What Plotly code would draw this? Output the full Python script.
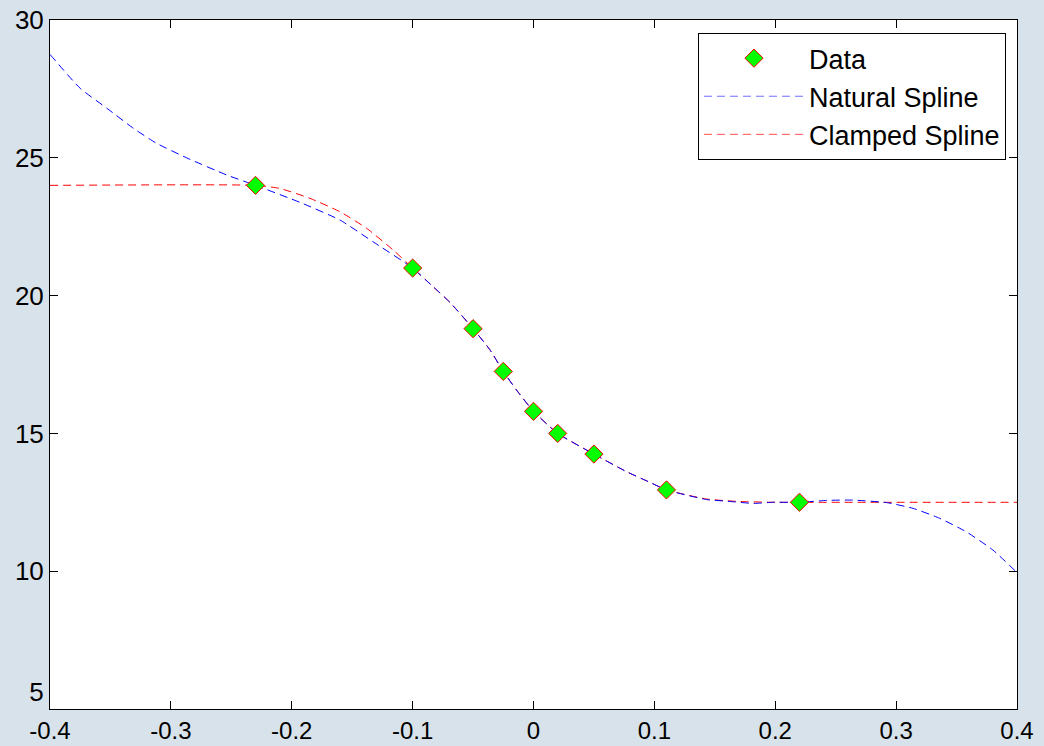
import plotly.graph_objects as go

data_x = [-0.23, -0.1, -0.05, -0.025, 0.0, 0.02, 0.05, 0.11, 0.22]
data_y = [24.0, 21.0, 18.8, 17.25, 15.8, 15.0, 14.25, 12.95, 12.5]

natural_x = [-0.4, -0.375, -0.353, -0.331, -0.312, -0.287, -0.254, -0.23, -0.193, -0.16,
             -0.133, -0.1, -0.083, -0.069, -0.05, -0.036, -0.025, -0.014, 0.0, 0.02,
             0.05, 0.077, 0.095, 0.11, 0.143, 0.16, 0.182, 0.198, 0.22, 0.243,
             0.264, 0.292, 0.314, 0.336, 0.358, 0.38, 0.4]
natural_y = [28.75, 27.52, 26.8, 26.07, 25.53, 25.0, 24.38, 24.0, 23.38, 22.74,
             21.96, 21.0, 20.32, 19.75, 18.8, 18.03, 17.25, 16.57, 15.8, 15.0,
             14.25, 13.61, 13.25, 12.95, 12.6, 12.54, 12.46, 12.5, 12.5, 12.57,
             12.58, 12.49, 12.28, 11.92, 11.43, 10.77, 9.95]

clamped_x = [-0.4, -0.23, -0.21, -0.185, -0.16, -0.138, -0.116, -0.1, -0.083, -0.069,
             -0.05, -0.036, -0.025, -0.014, 0.0, 0.02, 0.05, 0.077, 0.095, 0.11,
             0.143, 0.17, 0.2, 0.22, 0.4]
clamped_y = [24.0, 24.0, 23.89, 23.53, 23.04, 22.44, 21.65, 21.0, 20.32, 19.75,
             18.8, 18.03, 17.25, 16.57, 15.8, 15.0, 14.25, 13.61, 13.25, 12.95,
             12.62, 12.53, 12.5, 12.5, 12.5]

x_ticks = [-0.4, -0.3, -0.2, -0.1, 0, 0.1, 0.2, 0.3, 0.4]
x_labels = ["-0.4", "-0.3", "-0.2", "-0.1", "0", "0.1", "0.2", "0.3", "0.4"]
y_ticks = [5, 10, 15, 20, 25, 30]
y_labels = ["5<br> ", "10", "15", "20", "25", "30"]

FONT = "Liberation Sans, Arial, sans-serif"

fig = go.Figure()
fig.add_trace(go.Scatter(
    x=clamped_x, y=clamped_y, mode="lines", name="Clamped Spline",
    line=dict(color="#ff0000", width=1, dash="8px,5px", shape="spline", smoothing=0.5),
    showlegend=False))
fig.add_trace(go.Scatter(
    x=natural_x, y=natural_y, mode="lines", name="Natural Spline",
    line=dict(color="#0000ff", width=1, dash="8px,5px", shape="spline", smoothing=0.5),
    showlegend=False))
fig.add_trace(go.Scatter(
    x=data_x, y=data_y, mode="markers", name="Data",
    marker=dict(symbol="diamond", size=14, color="#00ff00", line=dict(color="#ff0000", width=1))))
# legend entries in order
fig.add_trace(go.Scatter(
    x=[None], y=[None], mode="lines", name="Natural Spline",
    line=dict(color="#6f6fff", width=1, dash="8px,5px")))
fig.add_trace(go.Scatter(
    x=[None], y=[None], mode="lines", name="Clamped Spline",
    line=dict(color="#ff5050", width=1, dash="8px,5px")))

axis_common = dict(
    showline=True, linecolor="black", linewidth=1, mirror="ticks",
    ticks="inside", ticklen=8, tickcolor="black", showgrid=False, zeroline=False,
    automargin=False,
)

fig.update_layout(
    width=1044, height=746,
    margin=dict(l=50, r=27, t=20, b=37),
    paper_bgcolor="#d8e2ea", plot_bgcolor="white",
    font=dict(family=FONT, size=26, color="black"),
    xaxis=dict(range=[-0.4, 0.4], tickvals=x_ticks, ticktext=x_labels,
               ticklabelstandoff=0, tickfont=dict(family=FONT, size=24, color="black"),
               **axis_common),
    yaxis=dict(range=[5, 30], tickvals=y_ticks, ticktext=y_labels,
               tickfont=dict(family=FONT, size=26, color="black"), **axis_common),
    legend=dict(x=0.9886, y=0.981, xanchor="right", yanchor="top",
                bgcolor="white", bordercolor="black", borderwidth=1,
                font=dict(family=FONT, size=27), itemwidth=100,
                tracegroupgap=0),
)

fig.write_html("out.html")
